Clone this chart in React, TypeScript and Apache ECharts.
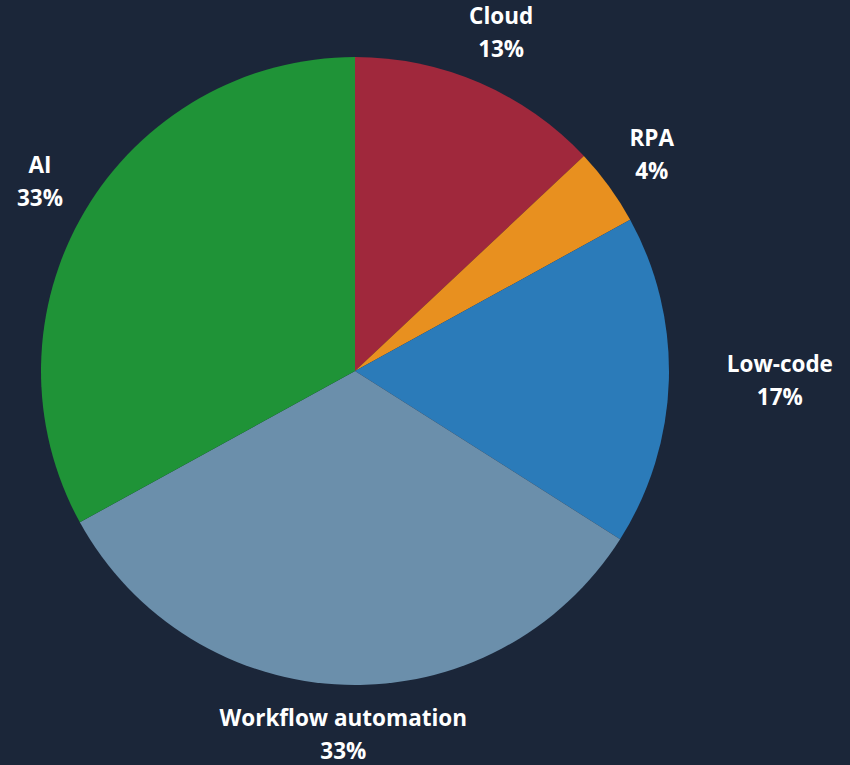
import React, { useEffect, useRef } from "react";
import * as echarts from "echarts";

const categories = ["Cloud", "RPA", "Low-code", "Workflow automation", "AI"];
const values = [13, 4, 17, 33, 33];
const colors = ["#a0283c", "#e8901f", "#2b7bb9", "#6b8fab", "#1f9337"];
const labelOffsets: number[][] = [[-2, 3], [-5, 2], [52, -3], [0, -10], [6, 0]];

export default function App() {
  const ref = useRef<HTMLDivElement>(null);
  useEffect(() => {
    if (!ref.current) return;
    const chart = echarts.init(ref.current, undefined, { renderer: "svg" });
    const mainData = categories.map((name, i) => ({
      name,
      value: values[i],
      itemStyle: { color: colors[i] },
    }));
    const labelData = categories.map((name, i) => ({
      name,
      value: values[i],
      label: { offset: labelOffsets[i] },
    }));
    chart.setOption({
      animation: false,
      backgroundColor: "#1b2639",
      series: [
        {
          type: "pie",
          center: [355, 371],
          radius: [0, 314],
          startAngle: 90,
          clockwise: true,
          label: { show: false },
          labelLine: { show: false },
          silent: true,
          itemStyle: { borderWidth: 0 },
          data: mainData,
        },
        {
          type: "pie",
          center: [355, 371],
          radius: [340, 400],
          startAngle: 90,
          clockwise: true,
          silent: true,
          itemStyle: { color: "rgba(0,0,0,0)", borderWidth: 0 },
          label: {
            show: true,
            position: "inside",
            color: "#ffffff",
            fontFamily: "Open Sans",
            fontWeight: "bold",
            fontSize: 22.5,
            lineHeight: 33,
            align: "center",
            verticalAlign: "middle",
            formatter: (p: any) => `${p.name}\n${Math.round(p.percent)}%`,
          },
          labelLine: { show: false },
          data: labelData,
        },
      ],
    });
    return () => chart.dispose();
  }, []);
  return (
    <div
      ref={ref}
      style={{ position: "fixed", left: 0, top: 0, width: 850, height: 765 }}
    />
  );
}
